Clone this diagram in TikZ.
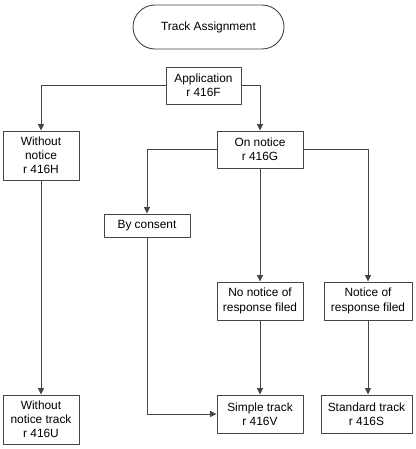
\documentclass[tikz,border=0pt]{standalone}
\usepackage{fontspec}
\setmainfont{Liberation Sans}
\usetikzlibrary{arrows.meta}
\definecolor{linegray}{HTML}{454545}
\begin{document}
\begin{tikzpicture}[x=1pt,y=-1pt,line join=round, >={Triangle[length=6.5pt,width=6pt]},
    font=\fontsize{11.9}{14.2}\selectfont,
    box/.style={draw=linegray,line width=0.9pt,align=center,inner sep=0pt,minimum width=#1},
    box/.default=86pt,
    term/.style={draw=linegray,line width=0.9pt,rounded corners=22pt,minimum width=151pt,minimum height=44pt},
    link/.style={draw=linegray,line width=0.9pt,->}]
    \useasboundingbox (0,0) rectangle (415,449);
    % nodes
    \node[term] (start) at (208.5,27) {Track Assignment};
    \node[box=75pt,minimum height=37pt] (app) at (203.5,85.5) {Application\\r 416F};
    \node[box=76pt,minimum height=49pt] (wo) at (41,155.5) {Without\\notice\\r 416H};
    \node[box,minimum height=37pt] (on) at (260,149.5) {On notice\\r 416G};
    \node[box,minimum height=23pt] (cons) at (147,225.5) {By consent};
    \node[box,minimum height=38pt] (nono) at (260,301) {No notice of\\response filed};
    \node[box=88pt,minimum height=38pt] (resp) at (368,301) {Notice of\\response filed};
    \node[box=76pt,minimum height=49pt] (wot) at (41,419.5) {Without\\notice track\\r 416U};
    \node[box,minimum height=38pt] (simple) at (260,414) {Simple track\\r 416V};
    \node[box=91pt,minimum height=38pt] (std) at (366.5,414) {Standard track\\r 416S};
    % connectors
    \draw[link] (app.west) -| (wo.north);
    \draw[link] (app.east) -| (on.north);
    \draw[link] (on.west) -| (cons.north);
    \draw[link] (on.east) -| (resp.north);
    \draw[link] (on.south) -- (nono.north);
    \draw[link] (wo.south) -- (wot.north);
    \draw[link] (cons.south) |- (simple.west);
    \draw[link] (nono.south) -- (simple.north);
    \draw[link] (resp.south) -- (resp.south |- std.north);
\end{tikzpicture}
\end{document}
